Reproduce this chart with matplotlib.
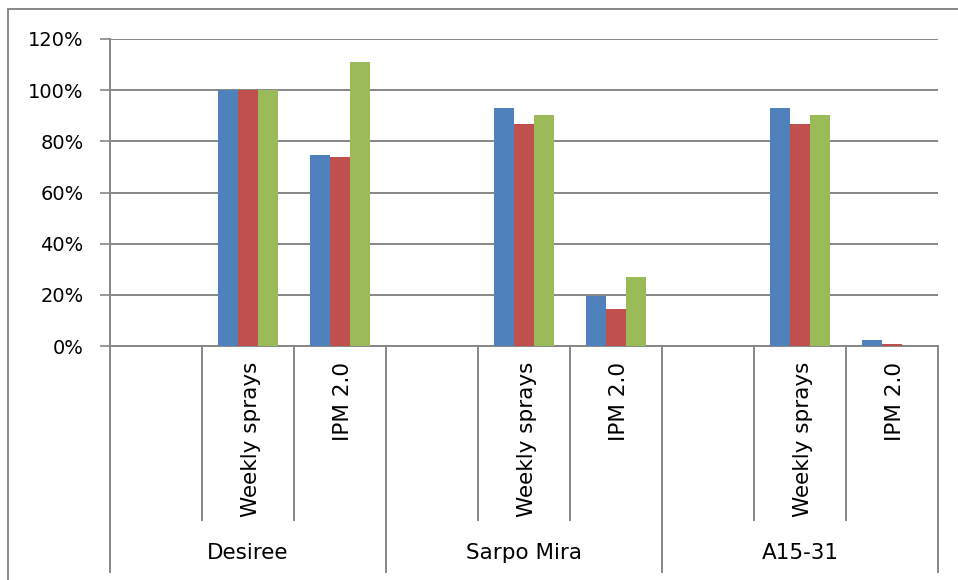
import numpy as np
import matplotlib
matplotlib.use('Agg')
import matplotlib.pyplot as plt
from matplotlib.patches import Rectangle
from matplotlib.ticker import PercentFormatter

plt.rcParams['font.family'] = ['DejaVu Sans']

# varieties and treatments (first treatment slot in each variety is left empty)
groups = ['Desiree', 'Sarpo Mira', 'A15-31']
treatments = ['', 'Weekly sprays', 'IPM 2.0']

# three series per treatment, fraction of the weekly-spray reference
nan = np.nan
series_blue = [nan, 1.00, 0.747, nan, 0.93, 0.197, nan, 0.93, 0.023]
series_red = [nan, 1.00, 0.740, nan, 0.868, 0.143, nan, 0.868, 0.008]
series_green = [nan, 1.00, 1.110, nan, 0.902, 0.270, nan, 0.902, 0.0]

colors = ['#4F81BD', '#C0504D', '#9BBB59']
grid_col = '#878787'

fig = plt.figure(figsize=(9.58, 5.80), dpi=100)
ax = fig.add_axes([110/958, (580-346)/580, (938-110)/958, (346-39)/580])

n = len(groups) * len(treatments)
x = np.arange(n)
w = 0.22
for k, (vals, c) in enumerate(zip([series_blue, series_red, series_green], colors)):
    ax.bar(x + (k - 1) * w, vals, w, color=c, edgecolor='none', zorder=3)

ax.set_xlim(-0.5, n - 0.5)
ax.set_ylim(0, 1.2)
ax.set_yticks(np.arange(0, 1.21, 0.2))
ax.yaxis.set_major_formatter(PercentFormatter(1.0, decimals=0))
ax.yaxis.grid(True, color=grid_col, linewidth=1.4)
ax.set_axisbelow(True)
ax.tick_params(axis='y', length=7, width=1.2, color=grid_col, pad=12, labelsize=14)
ax.set_xticks([])
for s in ['top', 'right']:
    ax.spines[s].set_visible(False)
ax.spines['left'].set_color(grid_col)
ax.spines['left'].set_linewidth(1.4)
ax.spines['bottom'].set_color(grid_col)
ax.spines['bottom'].set_linewidth(1.4)

# two-level category axis drawn below the plot
trans = ax.get_xaxis_transform()
y_inner = (346 - 520) / 307
y_outer = (346 - 572) / 307
for i in range(n + 1):
    b = i - 0.5
    bottom = y_outer if i % len(treatments) == 0 else y_inner
    ax.plot([b, b], [0, bottom], transform=trans, color=grid_col,
            linewidth=1.4, clip_on=False)
for i in range(n):
    lab = treatments[i % len(treatments)]
    if lab:
        ax.text(i + 0.03, (346 - 362) / 307, lab, transform=trans, rotation=90,
                ha='center', va='top', fontsize=15.5)
for g, name in enumerate(groups):
    c = g * len(treatments) + (len(treatments) - 1) / 2
    ax.text(c, (346 - 553) / 307, name, transform=trans, ha='center',
            va='center', fontsize=15.5)

# chart area border
fig.patches.append(Rectangle((8/958, -0.1), 1.2, (580 - 9)/580 + 0.1,
                             transform=fig.transFigure, fill=False,
                             edgecolor=grid_col, linewidth=1.4))

fig.savefig('out.png', dpi=100)
